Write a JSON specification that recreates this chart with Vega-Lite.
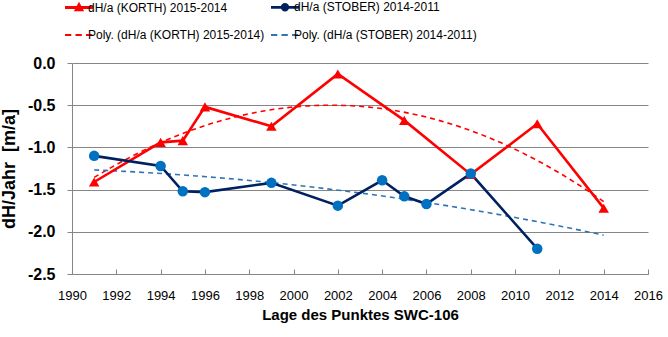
{
  "$schema": "https://vega.github.io/schema/vega-lite/v6.json",
  "width": 576,
  "height": 211,
  "autosize": {"type": "none"},
  "padding": {"left": 72, "top": 63, "right": 20, "bottom": 63},
  "background": "white",
  "config": {
    "font": "Liberation Sans",
    "view": {"stroke": null}
  },
  "data": {
    "values": [
      {"series": "dH/a (KORTH) 2015-2014", "trend": "Poly. (dH/a (KORTH) 2015-2014)", "year": 1991, "dh": -1.41},
      {"series": "dH/a (KORTH) 2015-2014", "trend": "Poly. (dH/a (KORTH) 2015-2014)", "year": 1994, "dh": -0.94},
      {"series": "dH/a (KORTH) 2015-2014", "trend": "Poly. (dH/a (KORTH) 2015-2014)", "year": 1995, "dh": -0.92},
      {"series": "dH/a (KORTH) 2015-2014", "trend": "Poly. (dH/a (KORTH) 2015-2014)", "year": 1996, "dh": -0.52},
      {"series": "dH/a (KORTH) 2015-2014", "trend": "Poly. (dH/a (KORTH) 2015-2014)", "year": 1999, "dh": -0.75},
      {"series": "dH/a (KORTH) 2015-2014", "trend": "Poly. (dH/a (KORTH) 2015-2014)", "year": 2002, "dh": -0.13},
      {"series": "dH/a (KORTH) 2015-2014", "trend": "Poly. (dH/a (KORTH) 2015-2014)", "year": 2005, "dh": -0.68},
      {"series": "dH/a (KORTH) 2015-2014", "trend": "Poly. (dH/a (KORTH) 2015-2014)", "year": 2008, "dh": -1.32},
      {"series": "dH/a (KORTH) 2015-2014", "trend": "Poly. (dH/a (KORTH) 2015-2014)", "year": 2011, "dh": -0.72},
      {"series": "dH/a (KORTH) 2015-2014", "trend": "Poly. (dH/a (KORTH) 2015-2014)", "year": 2014, "dh": -1.72},
      {"series": "dH/a (STOBER) 2014-2011", "trend": "Poly. (dH/a (STOBER) 2014-2011)", "year": 1991, "dh": -1.10},
      {"series": "dH/a (STOBER) 2014-2011", "trend": "Poly. (dH/a (STOBER) 2014-2011)", "year": 1994, "dh": -1.22},
      {"series": "dH/a (STOBER) 2014-2011", "trend": "Poly. (dH/a (STOBER) 2014-2011)", "year": 1995, "dh": -1.52},
      {"series": "dH/a (STOBER) 2014-2011", "trend": "Poly. (dH/a (STOBER) 2014-2011)", "year": 1996, "dh": -1.53},
      {"series": "dH/a (STOBER) 2014-2011", "trend": "Poly. (dH/a (STOBER) 2014-2011)", "year": 1999, "dh": -1.42},
      {"series": "dH/a (STOBER) 2014-2011", "trend": "Poly. (dH/a (STOBER) 2014-2011)", "year": 2002, "dh": -1.69},
      {"series": "dH/a (STOBER) 2014-2011", "trend": "Poly. (dH/a (STOBER) 2014-2011)", "year": 2004, "dh": -1.39},
      {"series": "dH/a (STOBER) 2014-2011", "trend": "Poly. (dH/a (STOBER) 2014-2011)", "year": 2005, "dh": -1.58},
      {"series": "dH/a (STOBER) 2014-2011", "trend": "Poly. (dH/a (STOBER) 2014-2011)", "year": 2006, "dh": -1.67},
      {"series": "dH/a (STOBER) 2014-2011", "trend": "Poly. (dH/a (STOBER) 2014-2011)", "year": 2008, "dh": -1.31},
      {"series": "dH/a (STOBER) 2014-2011", "trend": "Poly. (dH/a (STOBER) 2014-2011)", "year": 2011, "dh": -2.20}
    ]
  },
  "encoding": {
    "x": {
      "field": "year", "type": "quantitative",
      "scale": {"domain": [1990, 2016], "nice": false, "zero": false},
      "axis": {
        "title": "Lage des Punktes SWC-106",
        "values": [1990, 1992, 1994, 1996, 1998, 2000, 2002, 2004, 2006, 2008, 2010, 2012, 2014, 2016],
        "format": "d",
        "grid": false,
        "domainColor": "#868686",
        "tickColor": "#868686",
        "tickSize": -5,
        "labelPadding": 20,
        "labelFont": "Liberation Sans",
        "labelFontSize": 13,
        "labelColor": "#000000",
        "labelFlush": false,
        "labelOverlap": false,
        "titleFont": "Liberation Sans",
        "titleFontSize": 15,
        "titleFontWeight": "bold",
        "titleColor": "#000000",
        "titlePadding": 5
      }
    },
    "y": {
      "field": "dh", "type": "quantitative",
      "scale": {"domain": [-2.5, 0], "nice": false, "zero": false},
      "axis": {
        "title": "dH/Jahr\u00a0 [m/a]",
        "values": [-2.5, -2, -1.5, -1, -0.5, 0],
        "labelExpr": "replace(format(datum.value, '.1f'), '\u2212', '-')",
        "ticks": true,
        "tickSize": 5,
        "tickColor": "#868686",
        "grid": true,
        "gridColor": "#868686",
        "gridWidth": 1,
        "domainColor": "#868686",
        "labelPadding": 12,
        "labelFont": "Liberation Sans",
        "labelFontSize": 16,
        "labelFontWeight": "bold",
        "labelColor": "#000000",
        "labelFlush": false,
        "titleFont": "Liberation Sans",
        "titleFontSize": 18,
        "titleFontWeight": "bold",
        "titleColor": "#000000",
        "titlePadding": 9
      }
    }
  },
  "layer": [
    {
      "transform": [
        {"regression": "dh", "on": "year", "groupby": ["trend"], "method": "poly", "order": 2, "extent": [1991, 2014]}
      ],
      "mark": {"type": "line", "strokeWidth": 1.6, "strokeDash": [5, 4]},
      "encoding": {
        "color": {
          "field": "trend", "type": "nominal",
          "scale": {
            "domain": ["dH/a (KORTH) 2015-2014", "dH/a (STOBER) 2014-2011", "Poly. (dH/a (KORTH) 2015-2014)", "Poly. (dH/a (STOBER) 2014-2011)"],
            "range": ["#FF0000", "#002060", "#FF0000", "#2E75B6"]
          },
          "legend": {
            "title": null,
            "orient": "none",
            "legendX": 1,
            "legendY": -62,
            "columns": 2,
            "direction": "horizontal",
            "symbolType": "M-1,0H1",
            "symbolSize": 784,
            "symbolStrokeWidth": 2.5,
            "labelOffset": 3,
            "labelFont": "Liberation Sans",
            "labelFontSize": 12,
            "labelColor": "#000000",
            "labelLimit": 300,
            "columnPadding": 0,
            "rowPadding": 13,
            "padding": 0,
            "encode": {
              "symbols": {
                "update": {
                  "shape": {"signal": "datum.index === 0 ? 'M-1,0H1M-0.2,0.17L0,-0.2L0.2,0.17Z' : datum.index === 1 ? 'M-1,0H1M0.2,0A0.2,0.2,0,1,1,-0.2,0A0.2,0.2,0,1,1,0.2,0Z' : 'M-1,0H-0.55M-0.25,0H0.2M0.5,0H0.95'"},
                  "fill": {"signal": "datum.index === 0 ? '#FF0000' : datum.index === 1 ? '#0070C0' : 'transparent'"},
                  "strokeWidth": {"signal": "datum.index < 2 ? 2.8 : 1.8"}
                }
              }
            }
          }
        }
      }
    },
    {
      "mark": {"type": "line", "strokeWidth": 2.6},
      "encoding": {
        "color": {"field": "series", "type": "nominal"}
      }
    },
    {
      "mark": {"type": "point", "filled": true, "opacity": 1},
      "encoding": {
        "fill": {
          "field": "series", "type": "nominal",
          "scale": {"domain": ["dH/a (KORTH) 2015-2014", "dH/a (STOBER) 2014-2011"], "range": ["#FF0000", "#0070C0"]},
          "legend": null
        },
        "shape": {
          "field": "series", "type": "nominal",
          "scale": {"domain": ["dH/a (KORTH) 2015-2014", "dH/a (STOBER) 2014-2011"], "range": ["triangle-up", "circle"]},
          "legend": null
        },
        "size": {"value": 110}
      }
    }
  ]
}
